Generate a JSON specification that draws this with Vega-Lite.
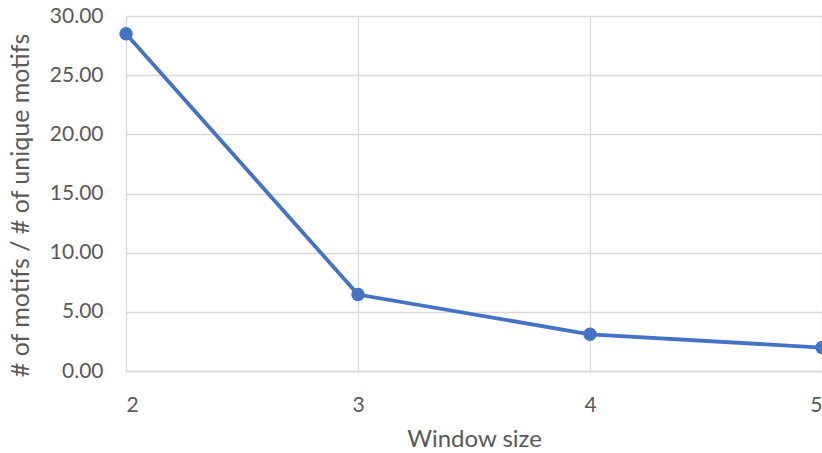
{
  "$schema": "https://vega.github.io/schema/vega-lite/v6.json",
  "width": 696,
  "height": 355,
  "autosize": {"type": "none"},
  "padding": {"left": 126, "top": 16, "right": 0, "bottom": 82},
  "background": "white",
  "config": {
    "view": {"stroke": null},
    "font": "Lato",
    "axis": {
      "labelFont": "Lato",
      "titleFont": "Lato",
      "labelColor": "#595959",
      "titleColor": "#595959",
      "gridColor": "#d9d9d9",
      "gridWidth": 1.3,
      "ticks": false,
      "labelFontSize": 21,
      "titleFontSize": 24,
      "titleFontWeight": "normal"
    }
  },
  "data": {
    "values": [
      {"window": 2, "ratio": 28.5},
      {"window": 3, "ratio": 6.46},
      {"window": 4, "ratio": 3.1},
      {"window": 5, "ratio": 1.98}
    ]
  },
  "encoding": {
    "x": {
      "field": "window",
      "type": "quantitative",
      "scale": {"domain": [2, 5], "nice": false, "zero": false},
      "axis": {
        "title": "Window size",
        "values": [2, 3, 4, 5],
        "format": "d",
        "domainColor": "#d9d9d9",
        "domainWidth": 1.3,
        "labelPadding": 23,
        "titlePadding": 12
      }
    },
    "y": {
      "field": "ratio",
      "type": "quantitative",
      "scale": {"domain": [0, 30], "nice": false},
      "axis": {
        "title": "# of motifs / # of unique motifs",
        "titleFontSize": 25,
        "titleY": 189,
        "values": [0, 5, 10, 15, 20, 25, 30],
        "format": ".2f",
        "domain": false,
        "labelPadding": 23,
        "titlePadding": 16
      }
    }
  },
  "layer": [
    {"mark": {"type": "line", "color": "#4472c4", "strokeWidth": 3.8}},
    {"mark": {"type": "point", "filled": true, "color": "#4472c4", "opacity": 1, "size": 180}}
  ]
}
